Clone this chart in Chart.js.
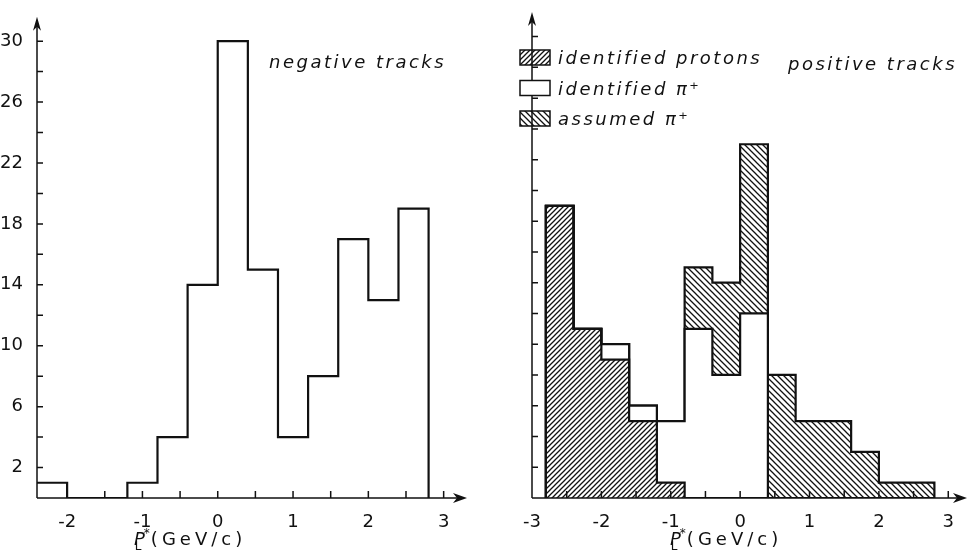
<!DOCTYPE html>
<html>
<head>
<meta charset="utf-8">
<script src="https://cdn.jsdelivr.net/npm/chart.js@4.4.1/dist/chart.umd.min.js"></script>
<style>
  html, body { margin: 0; padding: 0; background: #fff; }
  #wrap { position: relative; width: 968px; height: 558px; }
  .panel { position: absolute; top: 0; height: 558px; }
  #left { left: 0; width: 480px; }
  #right { left: 480px; width: 488px; }
</style>
</head>
<body>
<div id="wrap">
  <div class="panel" id="left"><canvas id="negChart" width="480" height="558"></canvas></div>
  <div class="panel" id="right"><canvas id="posChart" width="488" height="558"></canvas></div>
</div>
<script>
var binWidth = 0.4;

// negative tracks, bins of 0.4 GeV/c starting at the lower edge
var negBinLow = [-2.4, -2.0, -1.6, -1.2, -0.8, -0.4, 0.0, 0.4, 0.8, 1.2, 1.6, 2.0, 2.4];
var negCounts = [1, 0, 0, 1, 4, 14, 30, 15, 4, 8, 17, 13, 19];

// positive tracks
var posBinLow = [-2.8, -2.4, -2.0, -1.6, -1.2, -0.8, -0.4, 0.0, 0.4, 0.8, 1.2, 1.6, 2.0, 2.4];
var protons = [19, 11, 9, 5, 1, 0, 0, 0, 0, 0, 0, 0, 0, 0];
var piIdentified = [0, 0, 1, 1, 4, 11, 8, 12, 0, 0, 0, 0, 0, 0];
var piAssumed = [0, 0, 0, 0, 0, 4, 6, 11, 8, 5, 5, 3, 1, 1];

// axis ticks
var negXTicks = [-2, -1.5, -1, -0.5, 0, 0.5, 1, 1.5, 2, 2.5, 3];
var posXTicks = [-3, -2.5, -2, -1.5, -1, -0.5, 0, 0.5, 1, 1.5, 2, 2.5, 3];
var yTicks = [2, 4, 6, 8, 10, 12, 14, 16, 18, 20, 22, 24, 26, 28, 30];
var yLabels = [2, 6, 10, 14, 18, 22, 26, 30];

var INK = "#111";
var FONT = '"DejaVu Sans", sans-serif';

function makeHatch(dir, gap) {
  var c = document.createElement("canvas");
  c.width = gap;
  c.height = gap;
  var g = c.getContext("2d");
  g.strokeStyle = INK;
  g.lineWidth = 1.3;
  g.beginPath();
  if (dir === "/") {
    g.moveTo(0, gap); g.lineTo(gap, 0);
    g.moveTo(-1, 1); g.lineTo(1, -1);
    g.moveTo(gap - 1, gap + 1); g.lineTo(gap + 1, gap - 1);
  } else {
    g.moveTo(0, 0); g.lineTo(gap, gap);
    g.moveTo(-1, gap - 1); g.lineTo(1, gap + 1);
    g.moveTo(gap - 1, -1); g.lineTo(gap + 1, 1);
  }
  g.stroke();
  return g.createPattern(c, "repeat");
}

// histogram outline as a stepped line through the bin edges
function stepPoints(lows, tops, lead) {
  var pts = [];
  if (lead) pts.push({ x: lows[0], y: 0 });
  for (var i = 0; i < lows.length; i++) {
    pts.push({ x: lows[i], y: tops[i] });
  }
  pts.push({ x: +(lows[lows.length - 1] + binWidth).toFixed(2), y: 0 });
  return pts;
}

var piTop = protons.map((v, i) => v + piIdentified[i]);
var allTop = piTop.map((v, i) => v + piAssumed[i]);

function drawSpaced(ctx, text, x, y, font, spacing) {
  ctx.font = font;
  ctx.letterSpacing = spacing + "px";
  ctx.fillText(text, x, y);
  ctx.letterSpacing = "0px";
}

function drawAxisTitle(ctx, left, base) {
  ctx.font = "italic 18px " + FONT;
  ctx.fillText("P", left, base);
  var pw = ctx.measureText("P").width;
  ctx.font = "12px " + FONT;
  ctx.fillText("*", left + pw - 1, base - 8);
  ctx.fillText("L", left + pw - 10, base + 5);
  drawSpaced(ctx, "(GeV/c)", left + pw + 6, base, "18px " + FONT, 4);
}

var framePlugin = {
  id: "frame",
  afterDatasetsDraw: function (chart, args, opts) {
    var ctx = chart.ctx;
    var xs = chart.scales.x;
    var ys = chart.scales.y;
    var area = chart.chartArea;
    var ox = xs.getPixelForValue(opts.originX);
    var oy = ys.getPixelForValue(0);
    ctx.save();
    ctx.strokeStyle = INK;
    ctx.fillStyle = INK;
    ctx.lineWidth = 1.5;
    ctx.beginPath();
    ctx.moveTo(ox, oy);
    ctx.lineTo(area.right - 6, oy);
    ctx.moveTo(ox, oy);
    ctx.lineTo(ox, area.top + 6);
    opts.xTicks.forEach(function (v) {
      var px = xs.getPixelForValue(v);
      ctx.moveTo(px, oy);
      ctx.lineTo(px, oy - 7);
    });
    yTicks.forEach(function (v) {
      var py = ys.getPixelForValue(v);
      ctx.moveTo(ox, py);
      ctx.lineTo(ox + 6, py);
    });
    ctx.stroke();
    // arrow heads
    ctx.beginPath();
    ctx.moveTo(area.right, oy);
    ctx.lineTo(area.right - 14, oy - 5);
    ctx.lineTo(area.right - 10, oy);
    ctx.lineTo(area.right - 14, oy + 5);
    ctx.closePath();
    ctx.moveTo(ox, area.top);
    ctx.lineTo(ox - 4, area.top + 14);
    ctx.lineTo(ox, area.top + 10);
    ctx.lineTo(ox + 4, area.top + 14);
    ctx.closePath();
    ctx.fill();

    ctx.textAlign = "left";
    ctx.textBaseline = "alphabetic";
    drawAxisTitle(ctx, opts.titleX, 545);
    drawSpaced(ctx, opts.label, opts.labelX, opts.labelY, "italic 18px " + FONT, 2.5);

    if (opts.legend) {
      chart.data.datasets.forEach(function (ds, i) {
        var by = 50 + i * 30.5;
        ctx.fillStyle = ds.backgroundColor;
        ctx.fillRect(40, by, 30, 15);
        ctx.lineWidth = 1.5;
        ctx.strokeRect(40, by, 30, 15);
        ctx.fillStyle = INK;
        drawSpaced(ctx, ds.label, 78, by + 14, "italic 18px " + FONT, 2.5);
      });
    }
    ctx.restore();
  },
};

function makeOptions(xMin, xMax, xTicks, showY, padLeft, padRight, frame) {
  return {
    responsive: false,
    devicePixelRatio: 1,
    animation: false,
    layout: { padding: { top: 12, right: padRight, left: padLeft, bottom: 0 } },
    plugins: { legend: { display: false }, tooltip: { enabled: false }, frame: frame },
    elements: { point: { radius: 0 }, line: { tension: 0 } },
    scales: {
      x: {
        type: "linear",
        min: xMin,
        max: xMax,
        grid: { display: false },
        border: { display: false },
        afterBuildTicks: function (s) {
          s.ticks = xTicks.map((v) => ({ value: v }));
        },
        afterFit: function (s) {
          s.height = 60;
        },
        ticks: {
          autoSkip: false,
          maxRotation: 0,
          padding: 6,
          color: INK,
          font: { family: FONT, size: 18 },
          callback: (v) => (Number.isInteger(v) ? String(v) : ""),
        },
      },
      y: {
        display: showY,
        min: 0,
        max: 31.6,
        grid: { display: false },
        border: { display: false },
        afterBuildTicks: function (s) {
          s.ticks = yLabels.map((v) => ({ value: v }));
        },
        afterFit: function (s) {
          s.width = 37;
        },
        ticks: {
          padding: 6,
          color: INK,
          font: { family: FONT, size: 18 },
        },
      },
    },
  };
}

new Chart(document.getElementById("negChart"), {
  type: "line",
  data: {
    datasets: [
      {
        label: "negative tracks",
        data: stepPoints(negBinLow, negCounts, false),
        stepped: "before",
        fill: false,
        borderColor: INK,
        borderWidth: 2.2,
      },
    ],
  },
  options: makeOptions(-2.4, 3.31, negXTicks, true, 0, 13, {
    originX: -2.4,
    xTicks: negXTicks,
    titleX: 134,
    label: "negative tracks",
    labelX: 269,
    labelY: 68,
    legend: false,
  }),
  plugins: [framePlugin],
});

new Chart(document.getElementById("posChart"), {
  type: "line",
  data: {
    datasets: [
      {
        label: "identified protons",
        data: stepPoints(posBinLow, protons, true),
        stepped: "before",
        fill: "origin",
        backgroundColor: makeHatch("/", 5),
        borderColor: INK,
        borderWidth: 2.2,
      },
      {
        label: "identified \u03c0\u207a",
        data: stepPoints(posBinLow, piTop, true),
        stepped: "before",
        fill: "-1",
        backgroundColor: "#fff",
        borderColor: INK,
        borderWidth: 2.2,
      },
      {
        label: "assumed \u03c0\u207a",
        data: stepPoints(posBinLow, allTop, true),
        stepped: "before",
        fill: "-1",
        backgroundColor: makeHatch("\\", 6),
        borderColor: INK,
        borderWidth: 2.2,
      },
    ],
  },
  options: makeOptions(-3, 3.27, posXTicks, false, 15, 1, {
    originX: -3,
    xTicks: posXTicks,
    titleX: 190,
    label: "positive tracks",
    labelX: 308,
    labelY: 70,
    legend: true,
  }),
  plugins: [framePlugin],
});
</script>
</body>
</html>
